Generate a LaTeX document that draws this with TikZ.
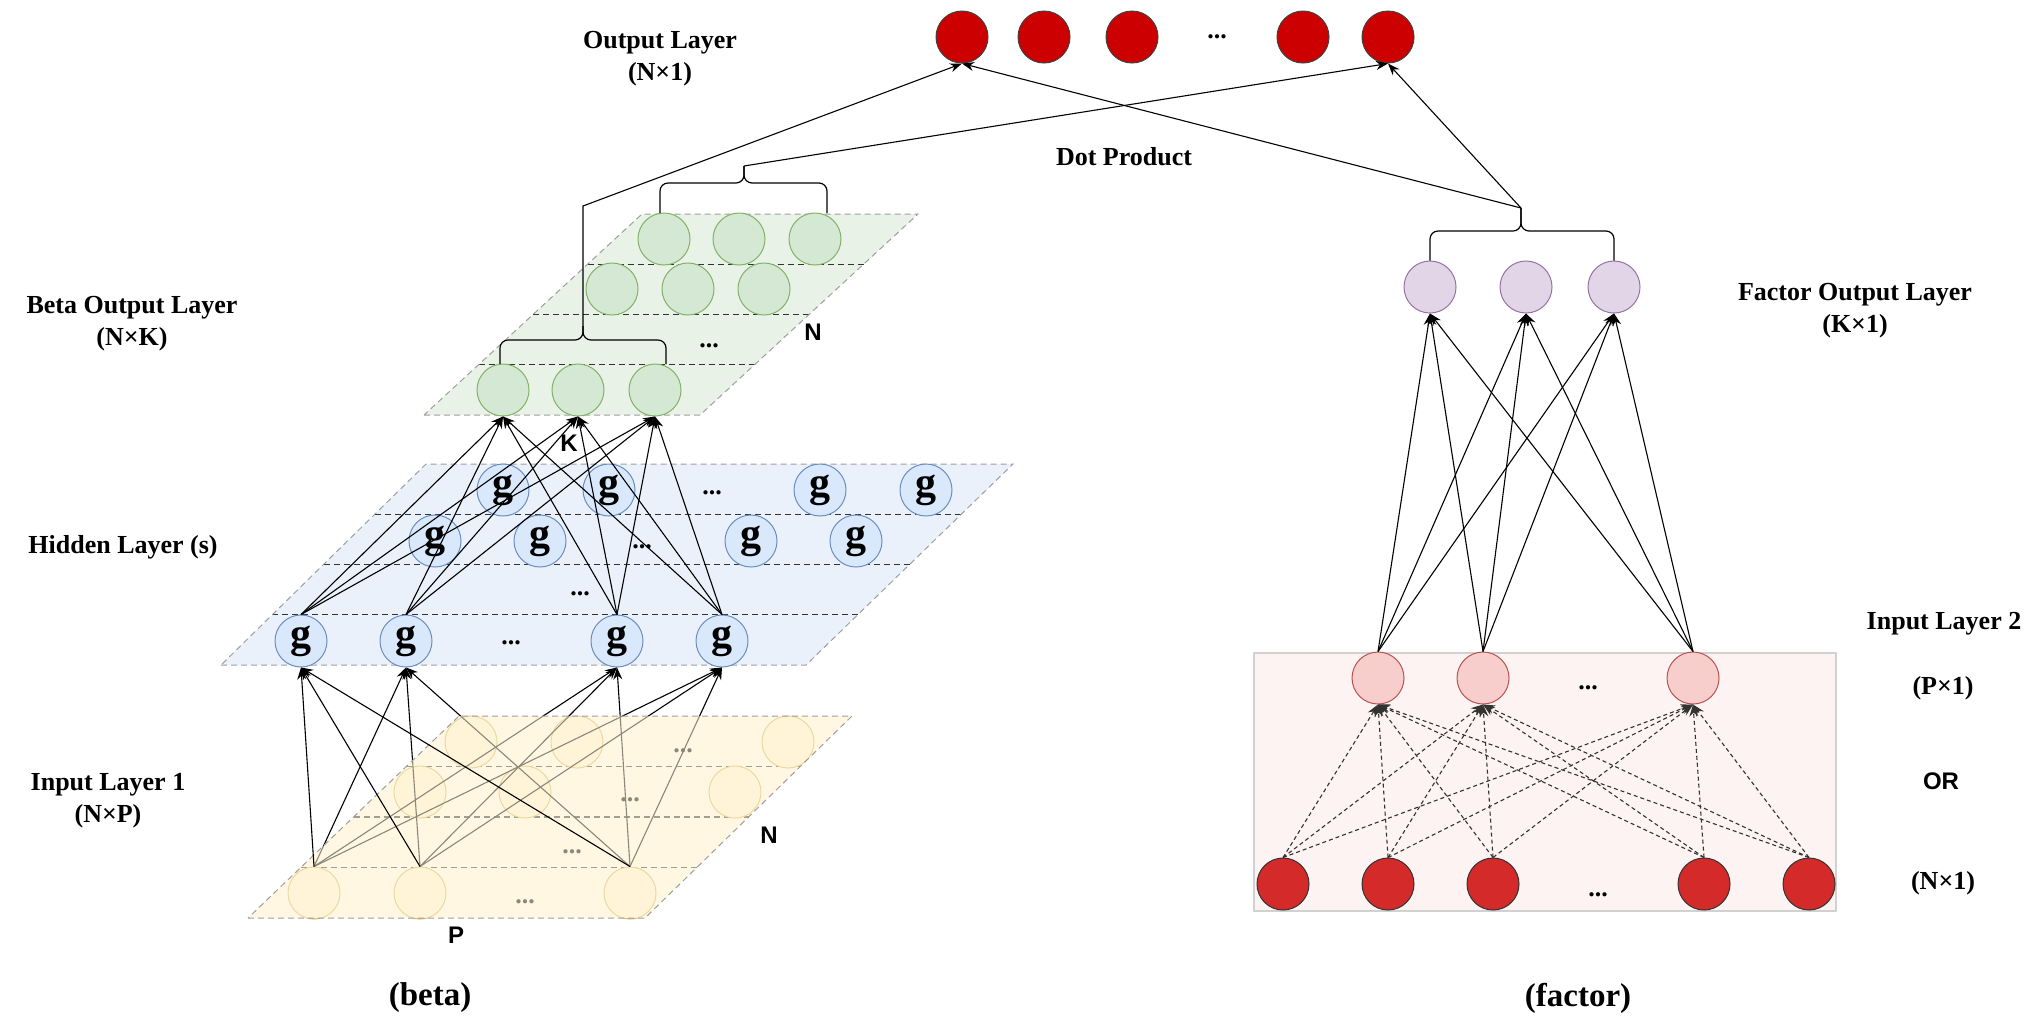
\documentclass[tikz,border=0pt]{standalone}
\usepackage{fontspec}
\setmainfont{Liberation Serif}
\setsansfont{Liberation Sans}
\usetikzlibrary{arrows.meta,calc}
\definecolor{yplane}{HTML}{FFF7E1}
\definecolor{ynode}{HTML}{FFF2CC}
\definecolor{yline}{HTML}{D6B656}
\definecolor{bplane}{HTML}{EAF1FB}
\definecolor{bnode}{HTML}{DAE8FC}
\definecolor{bline}{HTML}{6C8EBF}
\definecolor{gplane}{HTML}{E8F2E6}
\definecolor{gnode}{HTML}{D5E8D4}
\definecolor{gline}{HTML}{82B366}
\definecolor{fnode}{HTML}{E1D5E7}
\definecolor{fline}{HTML}{9673A6}
\definecolor{xnode}{HTML}{F8CECC}
\definecolor{xline}{HTML}{B85450}
\definecolor{rnode}{HTML}{D42A2A}
\definecolor{onode}{HTML}{CC0000}
\definecolor{boxfill}{HTML}{FCF3F2}
\tikzset{
ARROW/.style ={draw=black,line width=0.55pt,-{Stealth[length=6pt,width=4.5pt]}},
DASHARROW/.style ={ARROW,draw=black!80,dash pattern=on 2pt off 1.5pt},
BRACE/.style ={draw=black,line width=0.6pt,rounded corners=4pt},
PLANE/.style ={draw=none,fill=#1},
PLANEEDGE/.style ={draw=gray!75,line width=0.5pt,dash pattern=on 3pt off 2pt},
ROWLINE/.style ={draw=black!80,line width=0.6pt,dash pattern=on 3pt off 2pt},
NEURON/.style ={circle,minimum size=26pt,inner sep=0pt,line width=0.5pt},
INNODE/.style ={NEURON,fill=ynode,draw=yline},
GATE/.style ={NEURON,fill=bnode,draw=bline,font=\fontsize{21}{21}\selectfont\bfseries},
BETA/.style ={NEURON,fill=gnode,draw=gline},
FACTOR/.style ={NEURON,fill=fnode,draw=fline},
XNODE/.style ={NEURON,fill=xnode,draw=xline},
RNODE/.style ={NEURON,fill=rnode,draw=black!80},
OUTNODE/.style ={NEURON,fill=onode,draw=black!75},
BOX/.style ={fill=boxfill,draw=black!18,line width=0.6pt},
LABEL/.style ={font=\fontsize{13}{16}\selectfont\bfseries,align=center},
BIGLABEL/.style ={font=\fontsize{16.5}{18}\selectfont\bfseries},
SANS/.style ={font=\sffamily\bfseries\fontsize{12}{12}\selectfont},
DOTS/.style ={font=\fontsize{13}{13}\selectfont\bfseries},
}
\begin{document}
\begin{tikzpicture}[x=0.5pt,y=-0.5pt]
	\useasboundingbox (0,0) rectangle (2037,1030);
	%Plane corners
	\coordinate (yBL) at (248,918); \coordinate (yBR) at (645,918);
	\coordinate (yTR) at (852,716); \coordinate (yTL) at (459,716);
	\coordinate (bBL) at (221,665); \coordinate (bBR) at (806,665);
	\coordinate (bTR) at (1013,464); \coordinate (bTL) at (426,464);
	\coordinate (gBL) at (424,415); \coordinate (gBR) at (700,415);
	\coordinate (gTR) at (918,214); \coordinate (gTL) at (642,214);
	%Hidden layer
	\path[PLANE=bplane] (bBL) -- (bBR) -- (bTR) -- (bTL) -- cycle;
	\foreach \t in {0.25,0.5,0.75}
		\path[ROWLINE] ($(bBL)!\t!(bTL)$) -- ($(bBR)!\t!(bTR)$);
	\path[PLANEEDGE] (bBL) -- (bBR) -- (bTR) -- (bTL) -- cycle;
	\foreach \x [count=\i] in {301,406,617,722} \node[GATE] (h\i) at (\x,641) {g};
	\foreach \x [count=\i from 5] in {435,540,751,856} \node[GATE] (h\i) at (\x,541) {g};
	\foreach \x [count=\i from 9] in {503,609,820,926} \node[GATE] (h\i) at (\x,490) {g};
	\node[DOTS] (hdotA) at (511,643) {...};
	\node[DOTS] (hdotB) at (580,594) {...};
	\node[DOTS] (hdotC) at (642,547) {...};
	\node[DOTS] (hdotD) at (712,493) {...};
	%Input layer 1
	\path[PLANE=yplane] (yBL) -- (yBR) -- (yTR) -- (yTL) -- cycle;
	\foreach \t in {0.25,0.5,0.75}
		\path[ROWLINE] ($(yBL)!\t!(yTL)$) -- ($(yBR)!\t!(yTR)$);
	\foreach \x [count=\i] in {314,420,630} \node[INNODE] (i\i) at (\x,893) {};
	\foreach \x [count=\i from 4] in {420,525,735} \node[INNODE] (i\i) at (\x,792) {};
	\foreach \x [count=\i from 7] in {471,577,788} \node[INNODE] (i\i) at (\x,742) {};
	\node[DOTS] (idotA) at (525,902) {...};
	\node[DOTS] (idotB) at (572,852) {...};
	\node[DOTS] (idotC) at (630,800) {...};
	\node[DOTS] (idotD) at (683,751) {...};
	\foreach \i in {1,2,3} \foreach \h in {2,3,4}
		\path[ARROW] (i\i.north) -- (h\h.south);
	\fill[yplane,opacity=0.55] (yBL) -- (yBR) -- (yTR) -- (yTL) -- cycle;
	\path[PLANEEDGE] (yBL) -- (yBR) -- (yTR) -- (yTL) -- cycle;
	\foreach \i in {1,2,3} \path[ARROW] (i\i.north) -- (h1.south);
	%Beta output layer
	\path[PLANE=gplane] (gBL) -- (gBR) -- (gTR) -- (gTL) -- cycle;
	\foreach \t in {0.25,0.5,0.75}
		\path[ROWLINE] ($(gBL)!\t!(gTL)$) -- ($(gBR)!\t!(gTR)$);
	\path[PLANEEDGE] (gBL) -- (gBR) -- (gTR) -- (gTL) -- cycle;
	\foreach \x [count=\i] in {503,578,655} \node[BETA] (b\i) at (\x,390) {};
	\foreach \x [count=\i from 4] in {612,688,764} \node[BETA] (b\i) at (\x,289) {};
	\foreach \x [count=\i from 7] in {664,739,815} \node[BETA] (b\i) at (\x,239) {};
	\node[DOTS] (bdot) at (709,346) {...};
	\foreach \h in {1,...,4} \foreach \b in {1,2,3}
		\path[ARROW] (h\h.north) -- (b\b.south);
	%Braces
	\coordinate (lbL) at (500,364); \coordinate (lbR) at (666,364);
	\coordinate (lbMid) at (583,340); \coordinate (lbTip) at (583,326);
	\coordinate (ubL) at (660,213); \coordinate (ubR) at (827,213);
	\coordinate (ubMid) at (744,183); \coordinate (ubTip) at (744,166);
	\coordinate (fbMid) at (1521,231); \coordinate (fbTip) at (1521,208);
	\coordinate (bend) at (583,206);
	\path[BRACE] (lbL) |- (lbMid) -- (lbTip);
	\path[BRACE] (lbR) |- (lbMid) -- (lbTip);
	\path[BRACE] (ubL) |- (ubMid) -- (ubTip);
	\path[BRACE] (ubR) |- (ubMid) -- (ubTip);
	%Output layer
	\foreach \x [count=\i] in {962,1044,1132,1303,1388} \node[OUTNODE] (o\i) at (\x,37) {};
	\node[DOTS] (odot) at (1217,37) {...};
	\path[ARROW] (lbTip) -- (bend) -- (o1.south);
	\path[ARROW] (ubTip) -- (o5.south);
	\path[ARROW] (fbTip) -- (o1.south);
	\path[ARROW] (fbTip) -- (o5.south);
	%Factor network
	\path[BOX] (1254,653) rectangle (1836,911);
	\foreach \x [count=\i] in {1430,1526,1614} \node[FACTOR] (f\i) at (\x,287) {};
	\foreach \x [count=\i] in {1378,1483,1693} \node[XNODE] (x\i) at (\x,678) {};
	\foreach \x [count=\i] in {1283,1388,1493,1704,1809} \node[RNODE] (r\i) at (\x,884) {};
	\node[DOTS] (xdot) at (1588,688) {...};
	\node[DOTS] (rdot) at (1598,895) {...};
	\path[BRACE] (f1.north) |- (fbMid) -- (fbTip);
	\path[BRACE] (f3.north) |- (fbMid) -- (fbTip);
	\foreach \r in {1,...,5} \foreach \x in {1,2,3}
		\path[DASHARROW] (r\r.north) -- (x\x.south);
	\foreach \x in {1,2,3} \foreach \f in {1,2,3}
		\path[ARROW] (x\x.north) -- (f\f.south);
	%Labels
	\node[LABEL] (outlbl) at (660,59) {Output Layer\\(N×1)};
	\node[LABEL] (dotlbl) at (1124,157) {Dot Product};
	\node[LABEL] (betalbl) at (132,324) {Beta Output Layer\\(N×K)};
	\node[LABEL] (hidlbl) at (123,547) {Hidden Layer (s)};
	\node[LABEL] (in1lbl) at (108,801) {Input Layer 1\\(N×P)};
	\node[LABEL] (faclbl) at (1855,311) {Factor Output Layer\\(K×1)};
	\node[LABEL] (in2lbl) at (1944,624) {Input Layer 2};
	\node[LABEL] (pxlbl) at (1943,688) {(P×1)};
	\node[SANS] (orlbl) at (1941,781) {OR};
	\node[LABEL] (nxlbl) at (1943,883) {(N×1)};
	\node[SANS] (klbl) at (569,443) {K};
	\node[SANS] (nglbl) at (813,332) {N};
	\node[SANS] (nylbl) at (769,835) {N};
	\node[SANS] (plbl) at (456,935) {P};
	\node[BIGLABEL] (betacap) at (430,998) {(beta)};
	\node[BIGLABEL] (factorcap) at (1578,998) {(factor)};
\end{tikzpicture}
\end{document}
